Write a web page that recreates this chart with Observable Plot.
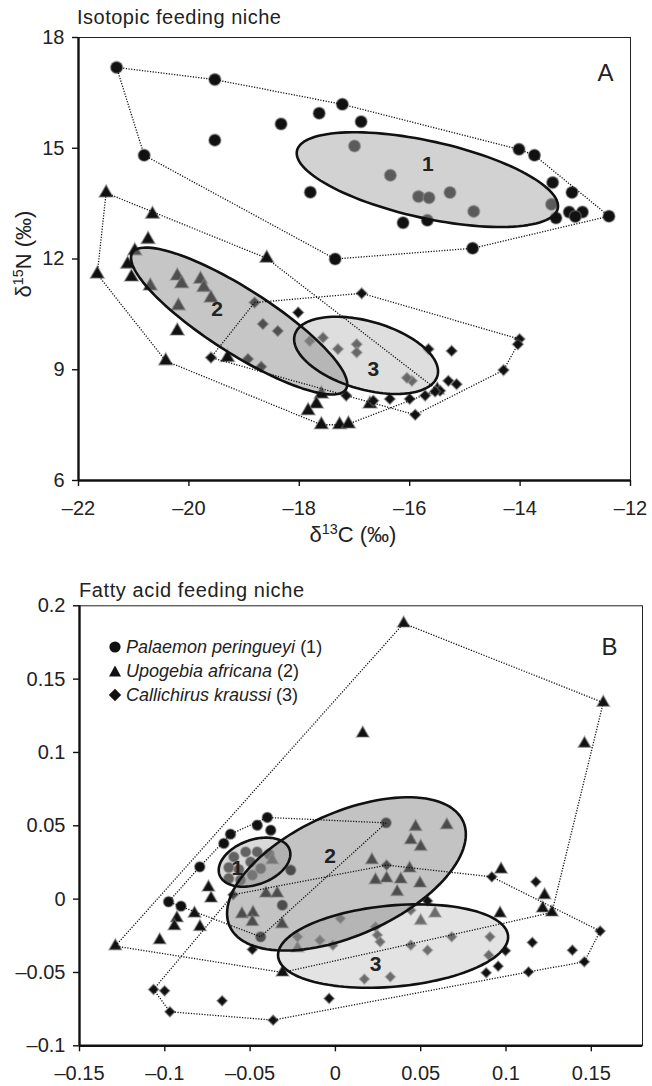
<!DOCTYPE html>
<html><head><meta charset="utf-8">
<script src="https://cdn.jsdelivr.net/npm/d3@7"></script>
<script src="https://cdn.jsdelivr.net/npm/@observablehq/plot@0.6"></script>
<style>
body{margin:0;background:#fff;font-family:"Liberation Sans",Arial,sans-serif;color:#222}
#wrap{position:relative;width:652px;height:1086px;overflow:hidden}
#wrap > svg{position:absolute;left:0}
.t{position:absolute;white-space:nowrap;line-height:1}
.lg{position:absolute;left:108px;font-size:18px;line-height:1;white-space:nowrap;color:#222}
.lg svg{vertical-align:-1px;margin-right:4px}
sup{font-size:0.65em;vertical-align:0.55em;line-height:0}
</style></head><body><div id="wrap"></div>
<script>
// ---------- Panel A: isotopic niche (d13C, d15N) ----------
const isoXTicks = [-22, -20, -18, -16, -14, -12];
const isoYTicks = [6, 9, 12, 15, 18];
const isoPalaemon = [[-21.31,17.19],[-19.53,16.86],[-17.22,16.19],[-17.64,15.95],[-18.33,15.66],[-16.88,15.72],[-19.53,15.22],[-20.81,14.81],[-17.0,15.06],[-14.02,14.97],[-13.74,14.81],[-16.35,14.27],[-17.80,13.81],[-15.84,13.69],[-15.65,13.66],[-15.27,13.80],[-13.41,14.07],[-13.06,13.80],[-13.43,13.48],[-14.84,13.29],[-13.11,13.27],[-12.87,13.27],[-13.35,13.11],[-13.0,13.15],[-16.12,12.98],[-15.68,13.05],[-12.39,13.16],[-14.86,12.29],[-17.35,12.0]];
const isoUpogebia = [[-21.50,13.79],[-20.66,13.21],[-20.74,12.53],[-20.98,12.22],[-21.11,11.86],[-21.66,11.59],[-21.04,11.51],[-20.70,11.27],[-20.21,11.54],[-20.13,11.33],[-19.79,11.45],[-19.73,11.23],[-20.19,10.73],[-19.60,10.94],[-18.59,12.02],[-20.21,10.05],[-20.42,9.24],[-19.30,9.33],[-17.60,8.34],[-17.69,8.07],[-17.84,7.89],[-17.60,7.51],[-17.27,7.51],[-17.11,7.53],[-16.72,8.07],[-15.50,8.45]];
const isoCallichirus = [[-18.81,10.82],[-18.02,10.55],[-18.66,10.24],[-18.39,10.05],[-17.81,9.78],[-17.57,9.87],[-17.30,9.56],[-16.96,9.69],[-16.96,9.47],[-19.60,9.33],[-18.93,9.29],[-18.69,9.08],[-16.87,11.07],[-15.66,9.56],[-15.24,9.51],[-15.96,8.70],[-16.05,8.78],[-17.15,8.30],[-16.66,8.16],[-16.36,8.21],[-16.00,8.21],[-15.72,8.30],[-15.45,8.43],[-15.30,8.70],[-15.15,8.61],[-15.54,8.41],[-15.90,7.78],[-14.01,9.83],[-14.04,9.69],[-14.30,8.99]];
// ellipse: [centerX, centerY, axis1X, axis1Y, axis2X, axis2Y]
const isoEllipses = [[-15.68,14.15,2.362,-0.784,-0.153,-1.016],[-19.09,10.32,1.933,-1.851,-0.316,-0.730],[-16.79,9.39,1.292,-0.558,-0.173,-0.885]];
const isoEllipseLabels = [[-15.67,14.57,"1"],[-19.49,10.64,"2"],[-16.66,9.02,"3"]];

// ---------- Panel B: fatty acid niche ----------
const faXTicks = [-0.15,-0.1,-0.05,0,0.05,0.1,0.15];
const faYTicks = [-0.1,-0.05,0,0.05,0.1,0.15,0.2];
const faPalaemon = [[-0.0399,0.0557],[-0.0458,0.0504],[-0.0379,0.0470],[-0.0615,0.0443],[-0.0654,0.0380],[-0.0795,0.0220],[-0.0978,-0.0018],[-0.0905,-0.0048],[-0.0438,-0.0257],[-0.0311,-0.0041],[-0.0262,0.0198],[0.0297,0.0520],[-0.0595,0.0288],[-0.0526,0.0322],[-0.0458,0.0322],[-0.0389,0.0307],[-0.0625,0.0216],[-0.0566,0.0202],[-0.0497,0.0254],[-0.0625,0.0141],[-0.0556,0.0130],[-0.0487,0.0164],[-0.0438,0.0209]];
const faUpogebia = [[0.040,0.188],[0.157,0.134],[0.016,0.113],[0.146,0.106],[-0.129,-0.032],[-0.103,-0.028],[-0.031,-0.050],[-0.0744,0.008],[-0.0729,0.0005],[-0.0826,-0.0098],[-0.0929,-0.013],[-0.0944,-0.0184],[-0.0794,-0.0189],[-0.0548,-0.0102],[-0.0483,-0.0093],[-0.0487,-0.0155],[-0.0313,-0.017],[-0.0407,0.0039],[-0.0341,0.0039],[-0.037,0.0266],[0.0214,0.0266],[0.047,0.0493],[0.0653,0.0504],[0.0442,0.0402],[0.050,0.0357],[0.0235,0.013],[0.030,0.0141],[0.0383,0.0134],[0.0435,0.0209],[0.0362,0.005],[0.0496,0.0107],[0.0971,0.0202],[0.1226,0.0027],[0.1215,-0.0063],[0.1269,-0.0091],[0.0965,-0.0098],[0.0584,-0.0098],[0.050,-0.0148],[-0.0222,-0.0336]];
const faCallichirus = [[-0.1066,-0.0616],[-0.1001,-0.0625],[-0.097,-0.0768],[-0.0664,-0.0693],[-0.0365,-0.0825],[-0.0037,-0.0677],[-0.0487,-0.0343],[0.030,0.0232],[0.0917,0.0152],[0.1175,0.0118],[0.1552,-0.0218],[0.1459,-0.0427],[0.1389,-0.0348],[0.1154,-0.0295],[0.1132,-0.0496],[0.0884,-0.0502],[0.0954,-0.0457],[0.0997,-0.0352],[0.054,-0.0012],[0.0029,-0.0132],[-0.0222,-0.0257],[-0.0091,-0.028],[-0.0015,-0.0314],[0.0235,-0.0189],[0.0246,-0.0245],[0.0262,-0.0291],[0.0442,-0.0314],[0.054,-0.0348],[0.0682,-0.0257],[0.0906,-0.0257],[0.0899,-0.0382],[0.017,-0.0545],[0.0322,-0.053],[0.0442,-0.0075],[-0.060,0.003]];
const faCallichirusHull = [0,34,7,8,10,11,14,4,2,0];
const faEllipses = [[-0.0474,0.0252,0.0205,0.00872,0.00451,-0.01427],[0.00647,0.0172,0.0684,0.0358,0.0148,-0.0381],[0.0338,-0.0320,0.0674,0.00702,0.00214,-0.02757]];
const faEllipseLabels = [[-0.0575,0.0209,"1"],[-0.0031,0.0293,"2"],[0.0235,-0.0443,"3"]];

const speciesNames = ["Palaemon peringueyi","Upogebia africana","Callichirus kraussi"];
const ellipseFills = ["#a5a5a5","#8d8d8d","#bdbdbd"];
const faEllipseFills = ["#b3b3b3","#888888","#c8c8c8"];

// ---------- helpers ----------
const fmt = d => d < 0 ? "\u2013" + String(Math.abs(d)) : String(d);
function ellipsePath(e){
  const [cx,cy,ux,uy,vx,vy] = e;
  return d3.range(0,121).map(i => { const t = i/120*2*Math.PI;
    return [cx+ux*Math.cos(t)+vx*Math.sin(t), cy+uy*Math.cos(t)+vy*Math.sin(t)]; });
}
function hullOf(pts){ const h = d3.polygonHull(pts); return h.concat([h[0]]); }
const X = d => d[0], Y = d => d[1];
const dotStyle = {fill:"#111", stroke:"#7a7a7a", strokeWidth:1.6, strokeOpacity:0.5};
const hullStyle = {stroke:"#111", strokeWidth:1.3, strokeDasharray:"1.2,1.5", strokeLinecap:"butt"};

function panel(o){
  const marks = [];
  o.sets.forEach((s,i) => marks.push(Plot.dot(s.pts, {x:X, y:Y, symbol:s.symbol, r:s.r, ...dotStyle})));
  const order = [2,0,1];
  order.forEach(i => marks.push(Plot.line(ellipsePath(o.ellipses[i]), {x:X, y:Y, fill:o.fills[i], fillOpacity:0.5, stroke:"none"})));
  o.sets.forEach(s => marks.push(Plot.line(s.hull, {x:X, y:Y, ...hullStyle})));
  o.ellipses.forEach(e => marks.push(Plot.line(ellipsePath(e), {x:X, y:Y, stroke:"#111", strokeWidth:2.6})));
  marks.push(Plot.text(o.labels, {x:X, y:Y, text:d=>d[2], fontWeight:"bold", fontSize:21, fill:"#222"}));
  marks.push(Plot.text([o.letter], {frameAnchor:"top-right", dx:o.letterDx, dy:o.letterDy, textAnchor:"middle", lineAnchor:"middle", fontSize:24, fill:"#222"}));
  marks.push(Plot.frame({stroke:"#222", strokeWidth:1}));
  marks.push(Plot.ruleX([o.xDomain[0]], {stroke:"#111", strokeWidth:2.4}));
  marks.push(Plot.ruleY([o.yDomain[0]], {stroke:"#111", strokeWidth:2.4}));
  marks.push(Plot.axisX(o.xTicks, {tickSize:6, tickPadding:14, tickFormat:fmt, fontSize:20, label:null, stroke:"#111", strokeWidth:1.4}));
  marks.push(Plot.axisY(o.yTicks, {tickSize:6, tickPadding:8, tickFormat:fmt, fontSize:20, label:null, stroke:"#111", strokeWidth:1.4}));
  const svg = Plot.plot({
    width:652, height:o.height, marginTop:o.mt, marginBottom:o.mb, marginLeft:o.ml, marginRight:o.mr,
    x:{domain:o.xDomain, label:null}, y:{domain:o.yDomain, label:null},
    style:{fontFamily:'"Liberation Sans", Arial, sans-serif', fontSize:"20px", color:"#222", background:"transparent", overflow:"visible"},
    marks
  });
  svg.style.top = o.top + "px";
  return svg;
}

const wrap = document.getElementById("wrap");
wrap.appendChild(panel({
  top:0, height:560, mt:37, mb:80, ml:78, mr:22,
  xDomain:[-22,-12], yDomain:[6,18], xTicks:isoXTicks, yTicks:isoYTicks,
  sets:[
    {pts:isoPalaemon, symbol:"circle", r:6, hull:hullOf(isoPalaemon)},
    {pts:isoUpogebia, symbol:"triangle", r:5.1, hull:hullOf(isoUpogebia)},
    {pts:isoCallichirus, symbol:"diamond2", r:4.9, hull:hullOf(isoCallichirus)}
  ],
  ellipses:isoEllipses, fills:ellipseFills, labels:isoEllipseLabels,
  letter:"A", letterDx:-25, letterDy:36
}));
wrap.appendChild(panel({
  top:560, height:526, mt:45.3, mb:40.7, ml:79, mr:10,
  xDomain:[-0.15,0.18], yDomain:[-0.1,0.2], xTicks:faXTicks, yTicks:faYTicks,
  sets:[
    {pts:faPalaemon, symbol:"circle", r:5.2, hull:hullOf(faPalaemon)},
    {pts:faUpogebia, symbol:"triangle", r:4.6, hull:hullOf(faUpogebia)},
    {pts:faCallichirus, symbol:"diamond2", r:4.6, hull:faCallichirusHull.map(i => faCallichirus[i])}
  ],
  ellipses:faEllipses, fills:faEllipseFills, labels:faEllipseLabels,
  letter:"B", letterDx:-33, letterDy:42
}));

function addText(html, css){ const d = document.createElement("div"); d.className = "t"; d.innerHTML = html; Object.assign(d.style, css); wrap.appendChild(d); return d; }
addText("Isotopic feeding niche", {left:"77px", top:"7px", fontSize:"20px", letterSpacing:"0.5px"});
addText("\u03b4<sup>13</sup>C (\u2030)", {left:"353px", top:"524px", fontSize:"22px", transform:"translateX(-50%)"});
addText("\u03b4<sup>15</sup>N (\u2030)", {left:"24px", top:"254px", fontSize:"22px", transform:"translate(-50%,-50%) rotate(-90deg)"});
addText("Fatty acid feeding niche", {left:"79px", top:"580px", fontSize:"20px", letterSpacing:"0.6px"});

const legendShapes = [
  '<svg width="14" height="14"><circle cx="7" cy="7" r="5.6" fill="#111"/></svg>',
  '<svg width="14" height="14"><path d="M7 1.5L13 12.5H1Z" fill="#111"/></svg>',
  '<svg width="14" height="14"><path d="M7 0.8L13.2 7L7 13.2L0.8 7Z" fill="#111"/></svg>'
];
const legendY = [647, 671, 695];
speciesNames.forEach((n,i) => {
  const d = document.createElement("div"); d.className = "lg";
  d.style.top = (legendY[i] - 9) + "px";
  d.innerHTML = legendShapes[i] + "<i>" + n + "</i> (" + (i+1) + ")";
  wrap.appendChild(d);
});
</script></body></html>
